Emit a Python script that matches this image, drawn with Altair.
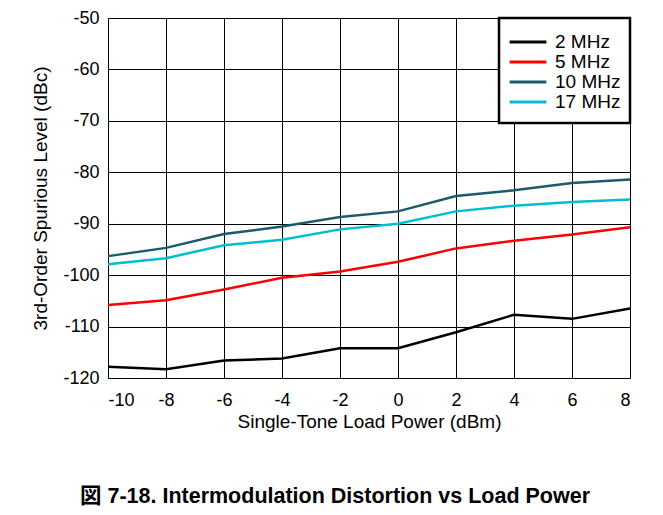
import altair as alt
import pandas as pd

power = [-10, -8, -6, -4, -2, 0, 2, 4, 6, 8]
mhz2 = [-117.8, -118.3, -116.6, -116.2, -114.2, -114.2, -111.1, -107.7, -108.5, -106.5]
mhz5 = [-105.8, -104.9, -102.8, -100.5, -99.3, -97.4, -94.8, -93.3, -92.1, -90.7]
mhz10 = [-96.3, -94.7, -92.0, -90.55, -88.7, -87.6, -84.6, -83.5, -82.1, -81.4]
mhz17 = [-97.9, -96.7, -94.2, -93.1, -91.1, -90.0, -87.6, -86.5, -85.8, -85.3]
y_ticks = [-120, -110, -100, -90, -80, -70, -60, -50]
series_names = ["2 MHz", "5 MHz", "10 MHz", "17 MHz"]
series_colors = ["#000000", "#FF0000", "#1B5B6B", "#00BED2"]

rows = []
for name, vals in zip(series_names, [mhz2, mhz5, mhz10, mhz17]):
    for p, v in zip(power, vals):
        rows.append({"power": p, "level": v, "series": name})
df = pd.DataFrame(rows)

FONT = "Liberation Sans, Arial, 'Noto Sans CJK JP', sans-serif"

lines = alt.Chart(df).mark_line(strokeWidth=2.5).encode(
    x=alt.X("power:Q",
            scale=alt.Scale(domain=[-10, 8], nice=False, zero=False),
            axis=alt.Axis(values=power, title="Single-Tone Load Power (dBm)",
                          labelExpr="'' + datum.value",
                          grid=True, gridColor="#000000", gridWidth=1,
                          domain=False, ticks=False, labelPadding=13,
                          labelFontSize=18, titleFontSize=19, titlePadding=3,
                          labelFont=FONT, titleFont=FONT, labelColor="#000",
                          titleColor="#000", titleFontWeight="normal")),
    y=alt.Y("level:Q",
            scale=alt.Scale(domain=[-120, -50], nice=False, zero=False),
            axis=alt.Axis(values=y_ticks,
                          title="3rd-Order Spurious Level (dBc)",
                          labelExpr="'' + datum.value",
                          grid=True, gridColor="#000000", gridWidth=1,
                          domain=False, ticks=False, labelPadding=9,
                          labelFontSize=18, titleFontSize=19, titlePadding=12,
                          labelFont=FONT, titleFont=FONT, labelColor="#000",
                          titleColor="#000", titleFontWeight="normal")),
    color=alt.Color("series:N",
                    scale=alt.Scale(domain=series_names, range=series_colors),
                    sort=series_names,
                    legend=alt.Legend(title=None, orient="none",
                                      legendX=386, legendY=0, padding=14,
                                      symbolType="stroke", symbolSize=1350,
                                      symbolStrokeWidth=3, clipHeight=20,
                                      rowPadding=0, labelFontSize=19,
                                      labelFont=FONT, labelColor="#000",
                                      labelOffset=7)),
)

legend_box = alt.Chart(alt.Data(values=[{}])).mark_rect(
    fill="white", stroke="#000000", strokeWidth=2.5
).encode(x=alt.value(391), x2=alt.value(522), y=alt.value(0), y2=alt.value(105))

edge = alt.Chart(alt.Data(values=[{}])).mark_rule(color="#888888", strokeWidth=1).encode(
    x=alt.value(-107), y=alt.value(-20), y2=alt.value(499)
)

chart = alt.layer(legend_box, lines, edge).properties(
    width=522, height=360,
    autosize=alt.AutoSizeParams(type="none"),
    padding={"left": 100, "top": 10, "right": 25, "bottom": 137},
    title=alt.TitleParams(
        "図 7-18. Intermodulation Distortion vs Load Power",
        orient="bottom", anchor="middle", font=FONT, fontSize=21.5,
        fontWeight="bold", color="#000", offset=-32, dx=-34),
).configure_view(stroke="#000000", strokeWidth=3).configure(background="white")

chart.save("out.html", embed_options={"renderer": "svg", "actions": False})
